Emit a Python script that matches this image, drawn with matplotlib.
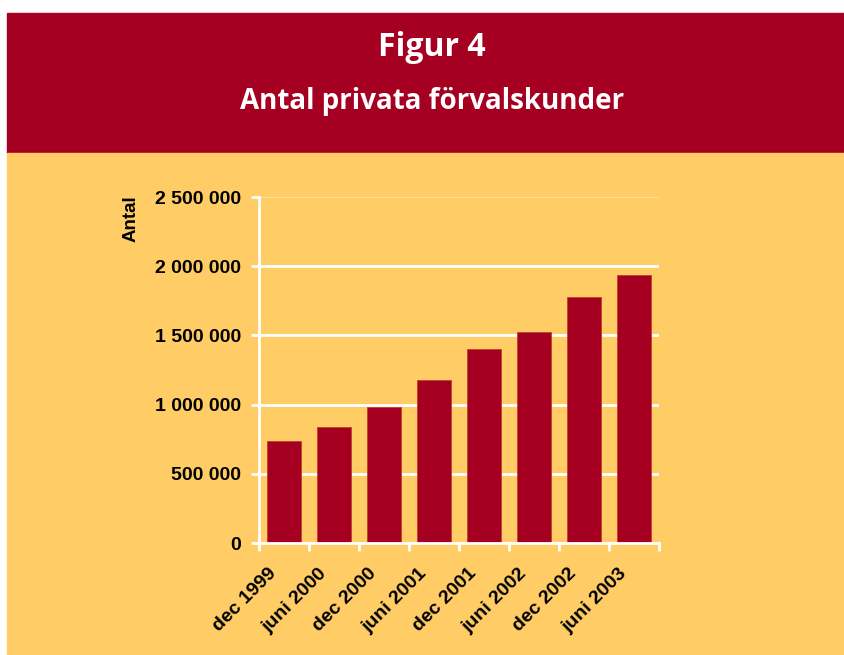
import matplotlib
matplotlib.use("Agg")
import matplotlib.pyplot as plt
from matplotlib.patches import Rectangle
from matplotlib.transforms import ScaledTranslation
import numpy as np

categories = ["dec 1999", "juni 2000", "dec 2000", "juni 2001",
              "dec 2001", "juni 2002", "dec 2002", "juni 2003"]
values = [737000, 840000, 985000, 1178000, 1402000, 1525000, 1777000, 1936000]
yticks = [0, 500000, 1000000, 1500000, 2000000, 2500000]
yticklabels = ["0", "500 000", "1 000 000", "1 500 000", "2 000 000", "2 500 000"]
title1 = "Figur 4"
title2 = "Antal privata förvalskunder"
ylabel = "Antal"

RED = "#A50021"
YEL = "#FFCC66"
W, H = 845, 655
fig = plt.figure(figsize=(W / 100, H / 100), dpi=100)
fig.patch.set_facecolor("white")

# header band and yellow background
fig.patches.append(Rectangle((7 / W, 1 - 153 / H), 1, (153 - 13) / H,
                             transform=fig.transFigure, color=RED, zorder=-5))
fig.patches.append(Rectangle((7 / W, 0), 1, 1 - 153 / H,
                             transform=fig.transFigure, color=YEL, zorder=-5))

fig.text(432 / W, 1 - 48 / H, title1, color="white", fontsize=23,
         fontweight="bold", family="Open Sans", ha="center", va="center")
fig.text(432 / W, 1 - 101 / H, title2, color="white", fontsize=20,
         fontweight="bold", family="Open Sans", ha="center", va="center")

ax = fig.add_axes([259 / W, 1 - 543 / H, 400 / W, (543 - 197) / H])
ax.set_zorder(2)
ax.patch.set_visible(False)

x = np.arange(len(categories))
ax.bar(x, values, width=0.68, color=RED, edgecolor="#C0402A", linewidth=0.6, zorder=3)
ax.set_xlim(-0.5, len(categories) - 0.5)
ax.set_ylim(0, 2500000)

for v in yticks[1:-1]:
    ax.axhline(v, color="white", lw=2, zorder=1)
ax.axhline(yticks[-1], color="#FFE3A8", lw=1.2, zorder=1)

for s in ["top", "right"]:
    ax.spines[s].set_visible(False)
for s in ["left", "bottom"]:
    ax.spines[s].set_color("white")
    ax.spines[s].set_linewidth(2)
    ax.spines[s].set_zorder(4)

ax.set_yticks(yticks)
ax.set_yticklabels(yticklabels, fontsize=14, fontweight="bold", family="Liberation Sans")
ax.tick_params(axis="y", direction="out", length=6, width=2, color="white", pad=7)

ax.set_xticks(x)
ax.set_xticks(np.arange(len(categories) + 1) - 0.5, minor=True)
ax.tick_params(axis="x", which="major", length=0, pad=20)
ax.tick_params(axis="x", which="minor", direction="out", length=6, width=2, color="white")
ax.set_xticklabels(categories, fontsize=14, fontweight="bold", family="Liberation Sans",
                   rotation=45, ha="right", va="center", rotation_mode="anchor")
off = ScaledTranslation(-10 / 100, 0, fig.dpi_scale_trans)
for lbl in ax.get_xticklabels():
    lbl.set_transform(lbl.get_transform() + off)

fig.text(131 / W, 1 - 195 / H, ylabel, rotation=90, fontsize=13.5, fontweight="bold",
         family="Liberation Sans", ha="center", va="top")

fig.savefig("out.png", dpi=100, facecolor=fig.get_facecolor())
